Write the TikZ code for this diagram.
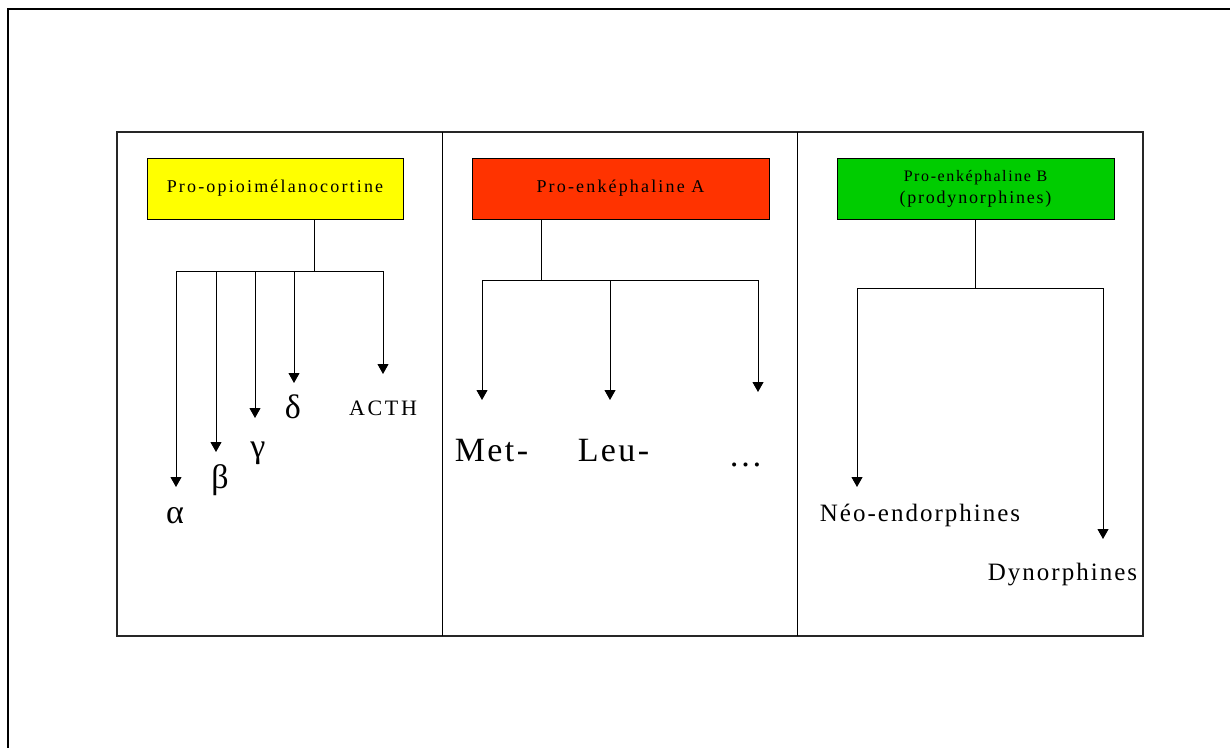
\documentclass[tikz,border=0pt]{standalone}
\usepackage{fontspec}
\setmainfont{Liberation Serif}
\usetikzlibrary{arrows.meta}
\newcommand\fsz[3]{\fontsize{#1}{#2}\selectfont\addfontfeature{LetterSpace=#3}}
\definecolor{pomcyellow}{HTML}{FFFF00}
\definecolor{penkred}{HTML}{FF3300}
\definecolor{penkgreen}{HTML}{00CC00}
\begin{document}
\begin{tikzpicture}[x=1pt,y=-1pt,
  box/.style={draw=black, line width=1pt, minimum height=61pt, inner sep=0pt, align=center},
  lbl/.style={anchor=base, inner sep=0pt},
  arr/.style={-{Triangle[width=11pt,length=10pt]}, line width=1pt},
  wire/.style={line width=1pt},
  panel/.style={line width=1.2pt, draw=black!85}]
\useasboundingbox (0,0) rectangle (1230,747);
\begin{scope}
\clip (0,0) rectangle (1230,747);
\draw[line width=2pt] (8,9) rectangle (1260,780);
\end{scope}
\draw[panel] (117,132) rectangle (1143,636);
\draw[line width=1pt] (442,132) -- (442,636);
\draw[line width=1pt] (797.5,132) -- (797.5,636);

% boxes
\node[box, fill=pomcyellow, minimum width=256pt, font=\fsz{18}{22}{12}] (pomc) at (275,188.5) {Pro-opioimélanocortine};
\node[box, fill=penkred, minimum width=297pt, font=\fsz{18}{22}{12}] (penka) at (620.5,188.5) {Pro-enképhaline A};
\node[box, fill=penkgreen, minimum width=277pt, font=\fsz{18}{22}{10}] (penkb) at (975.5,188.5) {{\fsz{16}{22}{10}Pro-enképhaline B}\\(prodynorphines)};

% junctions
\coordinate (j1) at (314,271);
\coordinate (j2) at (541,280);
\coordinate (j3) at (975,288);

% tips
\coordinate (ta) at (176,487);
\coordinate (tb) at (216,452);
\coordinate (tg) at (255,418);
\coordinate (td) at (294,383);
\coordinate (tacth) at (383,374);
\coordinate (tmet) at (482,400);
\coordinate (tleu) at (610,400);
\coordinate (tdots) at (758,392);
\coordinate (tneo) at (857,487);
\coordinate (tdyn) at (1103,539);

\draw[wire] (pomc.south -| j1) -- (j1);
\draw[arr] (j1) -| (ta);
\draw[arr] (j1) -| (tb);
\draw[arr] (j1) -| (tg);
\draw[arr] (j1) -| (td);
\draw[arr] (j1) -| (tacth);

\draw[wire] (penka.south -| j2) -- (j2);
\draw[arr] (j2) -| (tmet);
\draw[arr] (j2) -| (tleu);
\draw[arr] (j2) -| (tdots);

\draw[wire] (penkb.south -| j3) -- (j3);
\draw[arr] (j3) -| (tneo);
\draw[arr] (j3) -| (tdyn);

% labels
\node[lbl, font=\fsz{34}{34}{0}] (alpha) at (175,523) {α};
\node[lbl, font=\fsz{34}{34}{0}] (beta) at (220,488) {β};
\node[lbl, font=\fsz{34}{34}{0}] (gamma) at (258,457) {γ};
\node[lbl, font=\fsz{34}{34}{0}] (delta) at (293,418) {δ};
\node[lbl, font=\fsz{22}{22}{12}] (acth) at (383,415) {ACTH};
\node[lbl, font=\fsz{34}{34}{7}] (met) at (491.5,461.7) {Met-};
\node[lbl, font=\fsz{34}{34}{7}] (leu) at (613.5,461.7) {Leu-};
\node[lbl, font=\fsz{34}{34}{0}] (dots) at (745.5,466) {…};
\node[lbl, font=\fsz{25}{25}{8}] (neo) at (920,521.7) {Néo-endorphines};
\node[lbl, font=\fsz{25}{25}{8}] (dyn) at (1062.5,580) {Dynorphines};
\end{tikzpicture}
\end{document}
